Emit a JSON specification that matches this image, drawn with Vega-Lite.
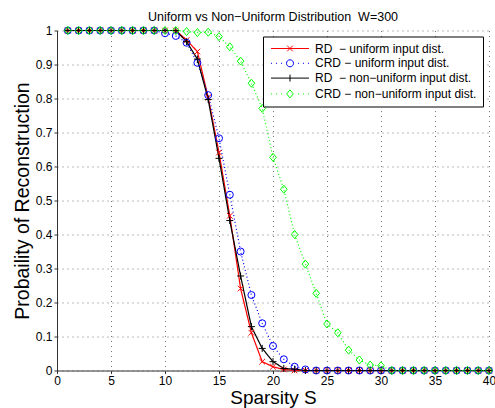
{
  "$schema": "https://vega.github.io/schema/vega-lite/v6.json",
  "width": 432,
  "height": 340,
  "autosize": "none",
  "padding": {"left": 57, "top": 30.5, "right": 6, "bottom": 37.5},
  "background": "white",
  "config": {"view": {"stroke": null}, "font": "Liberation Sans"},
  "title": {"text": "Uniform vs Non\u2212Uniform Distribution\u00a0\u00a0W=300", "fontSize": 12.5, "fontWeight": "normal", "font": "Liberation Sans", "baseline": "bottom", "offset": 7, "dy": 19, "anchor": "middle", "frame": "group", "color": "black"},
  "datasets": {
    "curves": [
      {"S":1,"s":"a","p":1},{"S":2,"s":"a","p":1},{"S":3,"s":"a","p":1},{"S":4,"s":"a","p":1},{"S":5,"s":"a","p":1},{"S":6,"s":"a","p":1},{"S":7,"s":"a","p":1},{"S":8,"s":"a","p":1},{"S":9,"s":"a","p":1},{"S":10,"s":"a","p":1},
      {"S":11,"s":"a","p":1},{"S":12,"s":"a","p":0.972},{"S":13,"s":"a","p":0.938},{"S":14,"s":"a","p":0.803},{"S":15,"s":"a","p":0.641},{"S":16,"s":"a","p":0.455},{"S":17,"s":"a","p":0.241},{"S":18,"s":"a","p":0.111},{"S":19,"s":"a","p":0.026},{"S":20,"s":"a","p":0.011},
      {"S":21,"s":"a","p":0.003},{"S":22,"s":"a","p":0},{"S":23,"s":"a","p":0},{"S":24,"s":"a","p":0},{"S":25,"s":"a","p":0},{"S":26,"s":"a","p":0},{"S":27,"s":"a","p":0},{"S":28,"s":"a","p":0},{"S":29,"s":"a","p":0},{"S":30,"s":"a","p":0},
      {"S":31,"s":"a","p":0},{"S":32,"s":"a","p":0},{"S":33,"s":"a","p":0},{"S":34,"s":"a","p":0},{"S":35,"s":"a","p":0},{"S":36,"s":"a","p":0},{"S":37,"s":"a","p":0},{"S":38,"s":"a","p":0},{"S":39,"s":"a","p":0},{"S":40,"s":"a","p":0},
      {"S":1,"s":"b","p":1},{"S":2,"s":"b","p":1},{"S":3,"s":"b","p":1},{"S":4,"s":"b","p":1},{"S":5,"s":"b","p":1},{"S":6,"s":"b","p":1},{"S":7,"s":"b","p":1},{"S":8,"s":"b","p":1},{"S":9,"s":"b","p":1},{"S":10,"s":"b","p":0.992},
      {"S":11,"s":"b","p":0.984},{"S":12,"s":"b","p":0.964},{"S":13,"s":"b","p":0.905},{"S":14,"s":"b","p":0.81},{"S":15,"s":"b","p":0.683},{"S":16,"s":"b","p":0.517},{"S":17,"s":"b","p":0.35},{"S":18,"s":"b","p":0.222},{"S":19,"s":"b","p":0.139},{"S":20,"s":"b","p":0.072},
      {"S":21,"s":"b","p":0.033},{"S":22,"s":"b","p":0.011},{"S":23,"s":"b","p":0.003},{"S":24,"s":"b","p":0},{"S":25,"s":"b","p":0},{"S":26,"s":"b","p":0},{"S":27,"s":"b","p":0},{"S":28,"s":"b","p":0},{"S":29,"s":"b","p":0},{"S":30,"s":"b","p":0},
      {"S":31,"s":"b","p":0},{"S":32,"s":"b","p":0},{"S":33,"s":"b","p":0},{"S":34,"s":"b","p":0},{"S":35,"s":"b","p":0},{"S":36,"s":"b","p":0},{"S":37,"s":"b","p":0},{"S":38,"s":"b","p":0},{"S":39,"s":"b","p":0},{"S":40,"s":"b","p":0},
      {"S":1,"s":"c","p":1},{"S":2,"s":"c","p":1},{"S":3,"s":"c","p":1},{"S":4,"s":"c","p":1},{"S":5,"s":"c","p":1},{"S":6,"s":"c","p":1},{"S":7,"s":"c","p":1},{"S":8,"s":"c","p":1},{"S":9,"s":"c","p":1},{"S":10,"s":"c","p":1},
      {"S":11,"s":"c","p":1},{"S":12,"s":"c","p":0.967},{"S":13,"s":"c","p":0.916},{"S":14,"s":"c","p":0.797},{"S":15,"s":"c","p":0.624},{"S":16,"s":"c","p":0.441},{"S":17,"s":"c","p":0.278},{"S":18,"s":"c","p":0.129},{"S":19,"s":"c","p":0.065},{"S":20,"s":"c","p":0.026},
      {"S":21,"s":"c","p":0.006},{"S":22,"s":"c","p":0.004},{"S":23,"s":"c","p":0},{"S":24,"s":"c","p":0},{"S":25,"s":"c","p":0},{"S":26,"s":"c","p":0},{"S":27,"s":"c","p":0},{"S":28,"s":"c","p":0},{"S":29,"s":"c","p":0},{"S":30,"s":"c","p":0},
      {"S":31,"s":"c","p":0},{"S":32,"s":"c","p":0},{"S":33,"s":"c","p":0},{"S":34,"s":"c","p":0},{"S":35,"s":"c","p":0},{"S":36,"s":"c","p":0},{"S":37,"s":"c","p":0},{"S":38,"s":"c","p":0},{"S":39,"s":"c","p":0},{"S":40,"s":"c","p":0},
      {"S":1,"s":"d","p":1},{"S":2,"s":"d","p":1},{"S":3,"s":"d","p":1},{"S":4,"s":"d","p":1},{"S":5,"s":"d","p":1},{"S":6,"s":"d","p":1},{"S":7,"s":"d","p":1},{"S":8,"s":"d","p":1},{"S":9,"s":"d","p":1},{"S":10,"s":"d","p":1},
      {"S":11,"s":"d","p":1},{"S":12,"s":"d","p":0.997},{"S":13,"s":"d","p":0.994},{"S":14,"s":"d","p":0.995},{"S":15,"s":"d","p":0.982},{"S":16,"s":"d","p":0.952},{"S":17,"s":"d","p":0.91},{"S":18,"s":"d","p":0.845},{"S":19,"s":"d","p":0.771},{"S":20,"s":"d","p":0.627},
      {"S":21,"s":"d","p":0.533},{"S":22,"s":"d","p":0.4},{"S":23,"s":"d","p":0.313},{"S":24,"s":"d","p":0.227},{"S":25,"s":"d","p":0.137},{"S":26,"s":"d","p":0.111},{"S":27,"s":"d","p":0.06},{"S":28,"s":"d","p":0.031},{"S":29,"s":"d","p":0.016},{"S":30,"s":"d","p":0.014},
      {"S":31,"s":"d","p":0},{"S":32,"s":"d","p":0},{"S":33,"s":"d","p":0},{"S":34,"s":"d","p":0},{"S":35,"s":"d","p":0},{"S":36,"s":"d","p":0},{"S":37,"s":"d","p":0},{"S":38,"s":"d","p":0},{"S":39,"s":"d","p":0},{"S":40,"s":"d","p":0}
    ]
  },
  "data": {"name": "curves"},
  "encoding": {
    "x": {"field": "S", "type": "quantitative", "scale": {"domain": [0, 40], "nice": false, "zero": false},
      "axis": {"values": [0, 5, 10, 15, 20, 25, 30, 35, 40], "format": "d", "title": "Sparsity S", "titleFontSize": 19, "titleFontWeight": "normal", "titleFont": "Liberation Sans", "titleColor": "black", "titlePadding": 2,
        "labelFontSize": 12, "labelColor": "black", "labelFont": "Liberation Sans", "labelPadding": 2, "labelFlush": false, "labelOverlap": false,
        "tickSize": 3, "tickColor": "#333333", "domainColor": "#333333", "grid": true, "gridDash": [1, 4], "gridColor": "#777777", "gridOpacity": 1}},
    "y": {"field": "p", "type": "quantitative", "scale": {"domain": [0, 1], "nice": false, "zero": false},
      "axis": {"values": [0, 0.1, 0.2, 0.3, 0.4, 0.5, 0.6, 0.7, 0.8, 0.9, 1], "format": "~g", "title": "Probaility of Reconstruction", "titleFontSize": 19.5, "titleFontWeight": "normal", "titleFont": "Liberation Sans", "titleColor": "black", "titlePadding": 3,
        "labelFontSize": 12, "labelColor": "black", "labelFont": "Liberation Sans", "labelPadding": 2, "labelFlush": false, "labelOverlap": false,
        "tickSize": 3, "tickColor": "#333333", "domainColor": "#333333", "grid": true, "gridDash": [1, 4], "gridColor": "#777777", "gridOpacity": 1}}
  },
  "layer": [
    {
      "mark": {"type": "line", "strokeWidth": 1.2},
      "encoding": {
        "color": {"field": "s", "type": "nominal", "scale": {"domain": ["a", "b", "c", "d"], "range": ["#ff0000", "#0000ff", "#000000", "#00ff00"]}, "legend": null},
        "strokeDash": {"field": "s", "type": "nominal", "scale": {"domain": ["a", "b", "c", "d"], "range": [[1, 0], [1, 2.5], [1, 0], [1, 2.5]]}, "legend": null}
      }
    },
    {
      "mark": {"type": "point", "filled": false, "size": 49, "strokeWidth": 1, "opacity": 1},
      "encoding": {
        "color": {"field": "s", "type": "nominal", "scale": {"domain": ["a", "b", "c", "d"], "range": ["#ff0000", "#0000ff", "#000000", "#00ff00"]}, "legend": null},
        "shape": {"field": "s", "type": "nominal", "scale": {"domain": ["a", "b", "c", "d"], "range": ["M-0.8,-0.8L0.8,0.8M-0.8,0.8L0.8,-0.8", "circle", "M-1,0L1,0M0,-1L0,1", "M0,-1.15L0.95,0L0,1.15L-0.95,0Z"]}, "legend": null}
      }
    },
    {
      "transform": [{"filter": "datum.S > 100"}],
      "mark": {"type": "point", "filled": false, "size": 49, "strokeWidth": 1, "opacity": 1},
      "encoding": {
        "color": {"field": "s", "type": "nominal", "scale": {"domain": ["a", "b", "c", "d"], "range": ["#ff0000", "#0000ff", "#000000", "#00ff00"]},
          "legend": {"title": null, "orient": "top-right", "offset": 6, "padding": 6, "strokeColor": "black", "fillColor": "white", "labelFont": "Liberation Sans", "labelFontSize": 12, "labelColor": "black", "labelLimit": 400, "symbolSize": 49, "symbolStrokeWidth": 1, "symbolOffset": 15, "labelOffset": 19, "rowPadding": 2.8, "symbolFillColor": "transparent", "symbolOpacity": 1,
            "labelExpr": "datum.label == 'a' ? 'RD\u00a0\u00a0\u2212 uniform input dist.' : datum.label == 'b' ? 'CRD \u2212 uniform input dist.' : datum.label == 'c' ? 'RD\u00a0\u00a0\u2212 non\u2212uniform input dist.' : 'CRD \u2212 non\u2212uniform input dist.'"}},
        "shape": {"field": "s", "type": "nominal", "scale": {"domain": ["a", "b", "c", "d"], "range": [
            "M-5.43,0L5.43,0M-0.8,-0.8L0.8,0.8M-0.8,0.8L0.8,-0.8",
            "M-5.43,0L-5.13,0M-4,0L-3.7,0M-2.57,0L-2.27,0M2.27,0L2.57,0M3.7,0L4,0M5.13,0L5.43,0M1,0A1,1,0,1,1,-1,0A1,1,0,1,1,1,0Z",
            "M-5.43,0L5.43,0M0,-1L0,1",
            "M-5.43,0L-5.13,0M-4,0L-3.7,0M-2.57,0L-2.27,0M2.27,0L2.57,0M3.7,0L4,0M5.13,0L5.43,0M0,-1.15L0.95,0L0,1.15L-0.95,0Z"]},
          "legend": {"title": null, "orient": "top-right", "offset": 6, "padding": 6, "strokeColor": "black", "fillColor": "white", "labelFont": "Liberation Sans", "labelFontSize": 12, "labelColor": "black", "labelLimit": 400, "symbolSize": 49, "symbolStrokeWidth": 1, "symbolOffset": 15, "labelOffset": 19, "rowPadding": 2.8, "symbolFillColor": "transparent", "symbolOpacity": 1,
            "labelExpr": "datum.label == 'a' ? 'RD\u00a0\u00a0\u2212 uniform input dist.' : datum.label == 'b' ? 'CRD \u2212 uniform input dist.' : datum.label == 'c' ? 'RD\u00a0\u00a0\u2212 non\u2212uniform input dist.' : 'CRD \u2212 non\u2212uniform input dist.'"}}
      }
    }
  ],
  "resolve": {"scale": {"color": "independent", "shape": "independent", "strokeDash": "independent"}}
}
